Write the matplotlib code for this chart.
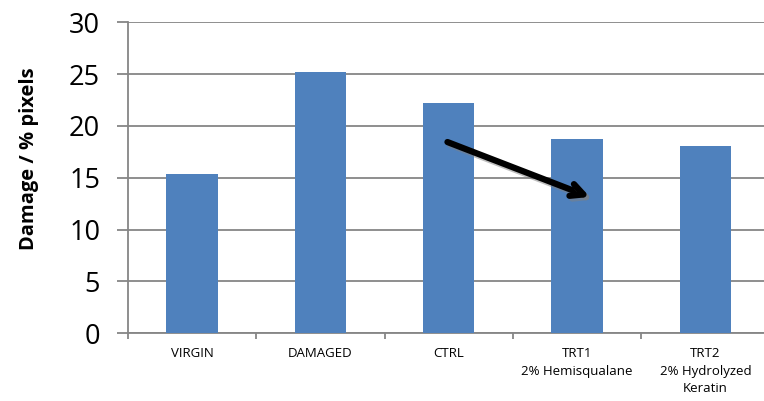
import matplotlib
matplotlib.use("Agg")
import matplotlib.pyplot as plt
import matplotlib.patheffects as pe
import numpy as np

categories = ["VIRGIN", "DAMAGED", "CTRL", "TRT1\n2% Hemisqualane", "TRT2\n2% Hydrolyzed\nKeratin"]
values = [15.33, 25.17, 22.2, 18.7, 18.03]
yticks = [0, 5, 10, 15, 20, 25, 30]
arrow_start = (1.99, 18.45)
arrow_end = (3.10, 13.15)

plt.rcParams['font.family'] = ['Open Sans', 'DejaVu Sans']

fig = plt.figure(figsize=(7.64, 4.01), dpi=100)
ax = fig.add_axes([0.1675, 0.1688, 0.8397, 0.7756])

x = np.arange(len(categories))
ax.bar(x, values, width=0.4, color="#4F81BD", zorder=3)

ax.set_xlim(-0.5, len(categories) - 0.5)
ax.set_ylim(0, 30)
ax.set_yticks(yticks)
ax.set_yticklabels([str(t) for t in yticks], fontsize=19.5)
ax.yaxis.grid(True, color="#868686", linewidth=1.3, zorder=0)
ax.tick_params(axis='y', direction='out', length=8, width=1.3, color="#868686", pad=12)

ax.set_xticks(x)
ax.set_xticklabels(categories, fontsize=9.5, linespacing=1.45, va='top')
ax.tick_params(axis='x', which='major', length=0, pad=10)
ax.set_xticks(np.arange(-0.5, len(categories), 1.0), minor=True)
ax.tick_params(axis='x', which='minor', direction='out', length=4, width=1.3, color="#868686")

for s in ['top', 'right']:
    ax.spines[s].set_visible(False)
for s in ['left', 'bottom']:
    ax.spines[s].set_color("#868686")
    ax.spines[s].set_linewidth(1.3)

ax.set_ylabel("Damage / % pixels", fontsize=14.5, fontweight='bold')
ax.yaxis.set_label_coords(-0.138, 0.56)

ax.annotate("", xy=arrow_end, xytext=arrow_start,
            arrowprops=dict(arrowstyle="->,head_length=0.9,head_width=0.45", color="black", lw=4.5,
                            shrinkA=0, shrinkB=0,
                            path_effects=[pe.SimpleLineShadow(offset=(2, -2), shadow_color='gray', alpha=0.5), pe.Normal()]),
            zorder=5)

fig.savefig("out.png", dpi=100)
